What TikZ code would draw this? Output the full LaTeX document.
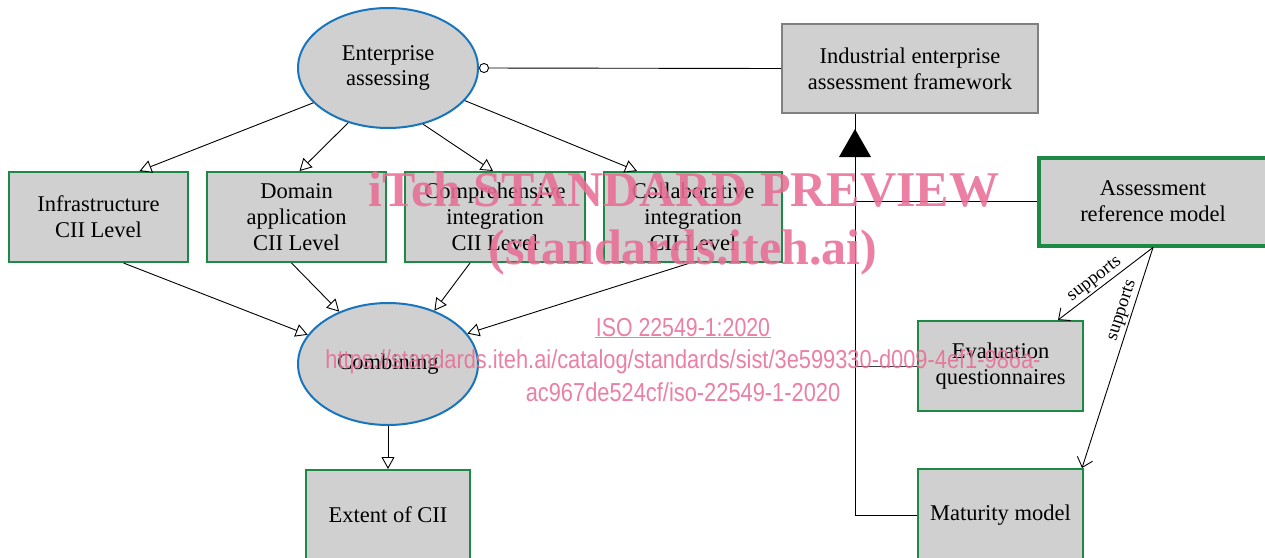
\documentclass[tikz,border=0pt]{standalone}
\usepackage{fontspec}
\setmainfont{Liberation Serif}
\newfontfamily\wmsans{Liberation Sans}
\usetikzlibrary{shapes.geometric,arrows.meta,calc}
\definecolor{boxfill}{RGB}{207,208,207}
\definecolor{eblue}{RGB}{23,117,189}
\definecolor{egreen}{RGB}{28,138,68}
\definecolor{fgray}{RGB}{128,128,128}
\definecolor{wmpink}{RGB}{232,110,150}
\begin{document}
\begin{tikzpicture}[x=1pt,y=-1pt,
  every node/.style={font=\fontsize{22.5}{25.8}\selectfont, align=center},
  ell/.style={ellipse, draw=eblue, line width=2pt, fill=boxfill, minimum width=180pt, minimum height=120pt, inner sep=0pt},
  gbox/.style={rectangle, draw=egreen, line width=2pt, fill=boxfill, inner sep=0pt},
  link/.style={line width=0.9pt, draw=black},
  opentri/.style={link, -{Triangle[open,length=12pt,width=13pt,fill=white]}},
  barb/.style={link, -{Straight Barb[length=9pt,width=16pt]}},
  lbl/.style={font=\fontsize{18.5}{21}\selectfont, inner sep=2pt},
  wm/.style={text=wmpink, text opacity=0.88, inner sep=1pt}
]
\useasboundingbox (0,0) rectangle (1265,557);
\clip (0,0) rectangle (1265,557);

% nodes
\node[ell] (ent) at (388,68) {Enterprise\\assessing};
\node[ell, minimum height=122pt] (comb) at (388,364) {Combining};
\node[rectangle, draw=fgray, line width=2pt, fill=boxfill, minimum width=256pt, minimum height=89pt] (frm) at (910,68.5) {Industrial enterprise\\assessment framework};
\node[gbox, minimum width=179pt, minimum height=90pt] (inf) at (98.5,217) {Infrastructure\\CII Level};
\node[gbox, minimum width=179pt, minimum height=90pt] (dom) at (296.5,217) {Domain\\application\\CII Level};
\node[gbox, minimum width=180pt, minimum height=90pt] (cmp) at (495,217) {Comprehensive\\integration\\CII Level};
\node[gbox, minimum width=178pt, minimum height=90pt] (col) at (693,217) {Collaborative\\integration\\CII Level};
\node[gbox, minimum width=164pt, minimum height=90pt] (ext) at (388,515) {Extent of CII};
\node[gbox, line width=4pt, minimum width=236pt, minimum height=88pt] (arm) at (1157,201.5) {\hspace*{-8pt}Assessment\\\hspace*{-8pt}reference model};
\node[gbox, minimum width=165pt, minimum height=90pt] (eva) at (1000.5,366) {Evaluation\\questionnaires};
\node[gbox, minimum width=165pt, minimum height=92pt] (mat) at (1000.5,515) {Maturity model};

% enterprise -> levels
\draw[opentri] (ent.205) -- ([xshift=41pt]inf.north);
\draw[opentri] (ent.234) -- ([xshift=3pt]dom.north);
\draw[opentri] (ent.302) -- ([xshift=-2pt]cmp.north);
\draw[opentri] (ent.337) -- ([xshift=-56pt]col.north);

% levels -> combining
\draw[opentri] ([xshift=25pt]inf.south) -- (comb.160);
\draw[opentri] ([xshift=-5pt]dom.south) -- (comb.133);
\draw[opentri] ([xshift=-25pt]cmp.south) -- (comb.49);
\draw[opentri] ([xshift=-3pt]col.south) -- (comb.21);

\draw[opentri] (comb.south) -- (ext.north);

% enterprise -o framework
\draw[link, {Circle[open,length=10pt,fill=white]}-] (ent.east) -- (frm.west);

% realization bus
\coordinate (jt) at ([xshift=-55pt]frm.south);
\draw[link] (mat.west) -| (jt);
\draw[link] (arm.west) -- (arm.west -| jt);
\draw[link, draw=black!75] (eva.west) -- (eva.west -| jt);
\fill[black] (855,129) -- (871,157) -- (839,157) -- cycle;

% supports
\coordinate (armb) at ([xshift=-4pt]arm.south);
\draw[barb] (armb) -- node[lbl, sloped, above, pos=0.55] {supports} ([xshift=57.5pt]eva.north);
\draw[barb] (armb) -- node[lbl, sloped, above, pos=0.3] {supports} ([xshift=81.5pt]mat.north);

% watermark
\node[wm, font=\bfseries\fontsize{50}{56}\selectfont] (wm1) at (684,190) {iTeh STANDARD PREVIEW};
\node[wm, font=\bfseries\fontsize{50}{56}\selectfont] (wm2) at (683,252) {(standards.iteh.ai)};
\node[wm, font=\wmsans\fontsize{26}{30}\selectfont] (wm3) at (683,328) {\scalebox{0.82}[1]{ISO 22549-1:2020}};
\draw[wmpink, opacity=0.88, line width=1pt] ([yshift=1pt]wm3.south west) -- ([yshift=1pt]wm3.south east);
\node[wm, font=\wmsans\fontsize{26}{30}\selectfont] (wm4) at (683,362) {\scalebox{0.84}[1]{https://standards.iteh.ai/catalog/standards/sist/3e599330-d009-4ef1-986a-}};
\node[wm, font=\wmsans\fontsize{26}{30}\selectfont] (wm5) at (683,392) {\scalebox{0.84}[1]{ac967de524cf/iso-22549-1-2020}};
\end{tikzpicture}
\end{document}
